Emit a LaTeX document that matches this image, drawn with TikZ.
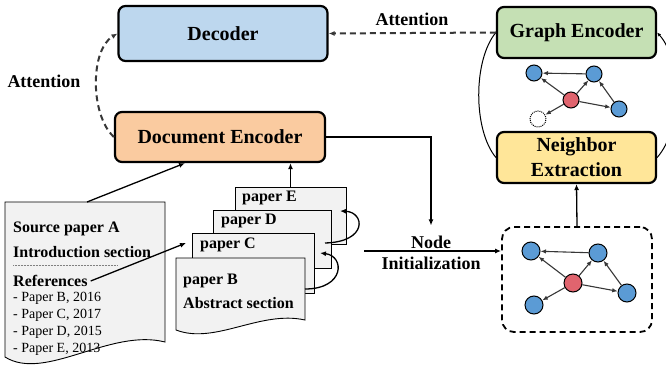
\documentclass[tikz,border=0pt]{standalone}
\usepackage{fontspec}
\setmainfont{Liberation Serif}
\usetikzlibrary{shapes,arrows.meta,positioning}
\definecolor{decblue}{RGB}{189,215,238}
\definecolor{encorange}{RGB}{250,203,160}
\definecolor{graphgreen}{RGB}{197,224,180}
\definecolor{nbyellow}{RGB}{255,230,153}
\definecolor{nodeblue}{RGB}{91,155,213}
\definecolor{nodered}{RGB}{224,100,110}
\definecolor{papergray}{RGB}{242,242,242}
\definecolor{linegray}{RGB}{55,55,55}

\begin{document}
\begin{tikzpicture}[x=1pt,y=-1pt,>={Latex[length=6pt,width=5pt]}]
  \tikzstyle{block}=[draw,line width=2.2pt,rounded corners=7pt,align=center,inner sep=0pt,font=\bfseries\fontsize{20}{25}\selectfont]
  \tikzstyle{paperbox}=[draw,line width=0.9pt,fill=papergray,inner sep=0pt]
  \tikzstyle{txt}=[inner sep=0pt,anchor=west,font=\bfseries\fontsize{16}{18}\selectfont]
  \tikzstyle{reftxt}=[inner sep=0pt,anchor=west,font=\fontsize{14}{16}\selectfont]
  \tikzstyle{lbl}=[inner sep=0pt,font=\bfseries\fontsize{18}{20}\selectfont]
  \tikzstyle{bnode}=[circle,draw,line width=1pt,fill=nodeblue,inner sep=0pt,minimum size=18pt]
  \tikzstyle{rnode}=[bnode,fill=nodered]
  \tikzstyle{edge}=[->,linegray,line width=1.1pt,>={Latex[length=5.5pt,width=4.5pt]}]
  \tikzstyle{attn}=[->,linegray,line width=2pt,dash pattern=on 6pt off 4pt]
  \tikzstyle{conn}=[->,line width=1.3pt]

  \useasboundingbox (0,0) rectangle (666,371);
  \clip (0,0) rectangle (666,371);

  % encoders and decoder
  \node[block,fill=decblue,minimum width=209pt,minimum height=55pt] (dec) at (223,33.5) {Decoder};
  \node[block,fill=encorange,minimum width=210pt,minimum height=50pt] (docenc) at (220,137) {Document Encoder};
  \node[block,fill=graphgreen,minimum width=159pt,minimum height=51pt] (genc) at (576.5,32.5) {Graph Encoder};
  \node[block,fill=nbyellow,minimum width=159pt,minimum height=51pt] (nbext) at (576.5,157.5) {Neighbor\\Extraction};

  % source paper
  \draw[line width=0.9pt,fill=papergray] (5,202) -- (165,202) -- (165,342) .. controls (110,328) and (45,382) .. (5,357) -- cycle;
  \coordinate (srcTop) at (87,202);
  \node[txt] (srcA) at (13,229) {Source paper A};
  \node[txt] (intro) at (13,252) {Introduction section};
  \draw[densely dotted,line width=0.5pt,gray] (13,265) -- (118,265);
  \node[txt] (refs) at (13,281) {References};
  \node[reftxt] (refB) at (13,298) {- Paper B, 2016};
  \node[reftxt] (refC) at (13,315) {- Paper C, 2017};
  \node[reftxt] (refD) at (13,332) {- Paper D, 2015};
  \node[reftxt] (refE) at (13,349) {- Paper E, 2013};

  % cited papers
  \node[paperbox,minimum width=111pt,minimum height=57pt] (pE) at (290.5,215.5) {};
  \node[paperbox,minimum width=118pt,minimum height=58pt] (pD) at (272,239) {};
  \node[paperbox,minimum width=122pt,minimum height=60pt] (pC) at (253,263) {};
  \draw[line width=0.9pt,fill=papergray] (176,258) -- (305,258) -- (305,320) .. controls (260,310) and (215,345) .. (176,330) -- cycle;
  \node[txt] (labE) at (242,198) {paper E};
  \node[txt] (labD) at (221,221) {paper D};
  \node[txt] (labC) at (200,245) {paper C};
  \node[txt] (labB) at (183,281) {paper B};
  \node[txt] (labAbs) at (183,303) {Abstract section};

  \coordinate (dOut) at (325,243);
  \coordinate (eIn) at (340,211);
  \coordinate (bOut) at (305,289);
  \coordinate (cIn) at (320,253);
  \coordinate (cLeft) at (186,243);
  \draw[conn] (dOut) .. controls (368,242) and (365,212) .. (eIn);
  \draw[conn] (bOut) .. controls (345,289) and (345,256) .. (cIn);
  \draw[conn] ([xshift=3pt]refs.east) -- (cLeft);
  \draw[conn] (srcTop) -- ([xshift=-35pt]docenc.south);
  \draw[conn] (pE.north) -- (pE.north |- docenc.south);

  % node initialization
  \node[lbl] (lblnode) at (431,242) {Node};
  \node[lbl] (lblinit) at (431,263) {Initialization};
  \draw[conn] (docenc.east) -| ([yshift=10pt]lblnode.north);
  \node[draw,line width=1.8pt,rounded corners=12pt,dash pattern=on 6pt off 4pt,minimum width=150pt,minimum height=105pt] (gbox) at (577,279.5) {};
  \coordinate (initL) at (364,251);
  \draw[conn] (initL) -- (initL -| gbox.west);
  \draw[conn] (gbox.north) -- (nbext.south);

  % graph in box
  \node[bnode] (g1) at (531,251) {};
  \node[bnode] (g2) at (598,253) {};
  \node[rnode] (g0) at (573,283) {};
  \node[bnode] (g3) at (627,293) {};
  \node[bnode] (g4) at (534,305) {};
  \draw[edge] (g2) -- (g1);
  \draw[edge] (g0) -- (g1);
  \draw[edge] (g0) -- (g2);
  \draw[edge] (g0) -- (g3);
  \draw[edge] (g3) -- (g2);
  \draw[edge] (g0) -- (g4);

  % graph between encoder boxes
  \node[bnode,minimum size=16pt] (s1) at (534,73) {};
  \node[bnode,minimum size=16pt] (s2) at (594,74) {};
  \node[rnode,minimum size=16pt] (s0) at (571,100) {};
  \node[bnode,minimum size=16pt] (s3) at (619,109) {};
  \node[bnode,minimum size=16pt,fill=white,densely dotted] (s4) at (538,119) {};
  \draw[edge] (s2) -- (s1);
  \draw[edge] (s0) -- (s1);
  \draw[edge] (s0) -- (s2);
  \draw[edge] (s0) -- (s3);
  \draw[edge] (s3) -- (s2);
  \draw[edge] (s0) -- (s4);

  \draw[line width=1pt] (genc.west) .. controls (473,60) and (473,130) .. (nbext.west);
  \draw[->,line width=1pt,>={Latex[length=4pt,width=3.5pt]}] (nbext.east) .. controls (682,130) and (682,60) .. (genc.east);

  % attention
  \draw[attn] (genc.west) -- (dec.east);
  \node[lbl] (attnTop) at (412,19) {Attention};
  \draw[attn] (docenc.west) .. controls (90,115) and (90,50) .. (dec.west);
  \node[lbl] (attnLeft) at (44,81) {Attention};
\end{tikzpicture}
\end{document}
